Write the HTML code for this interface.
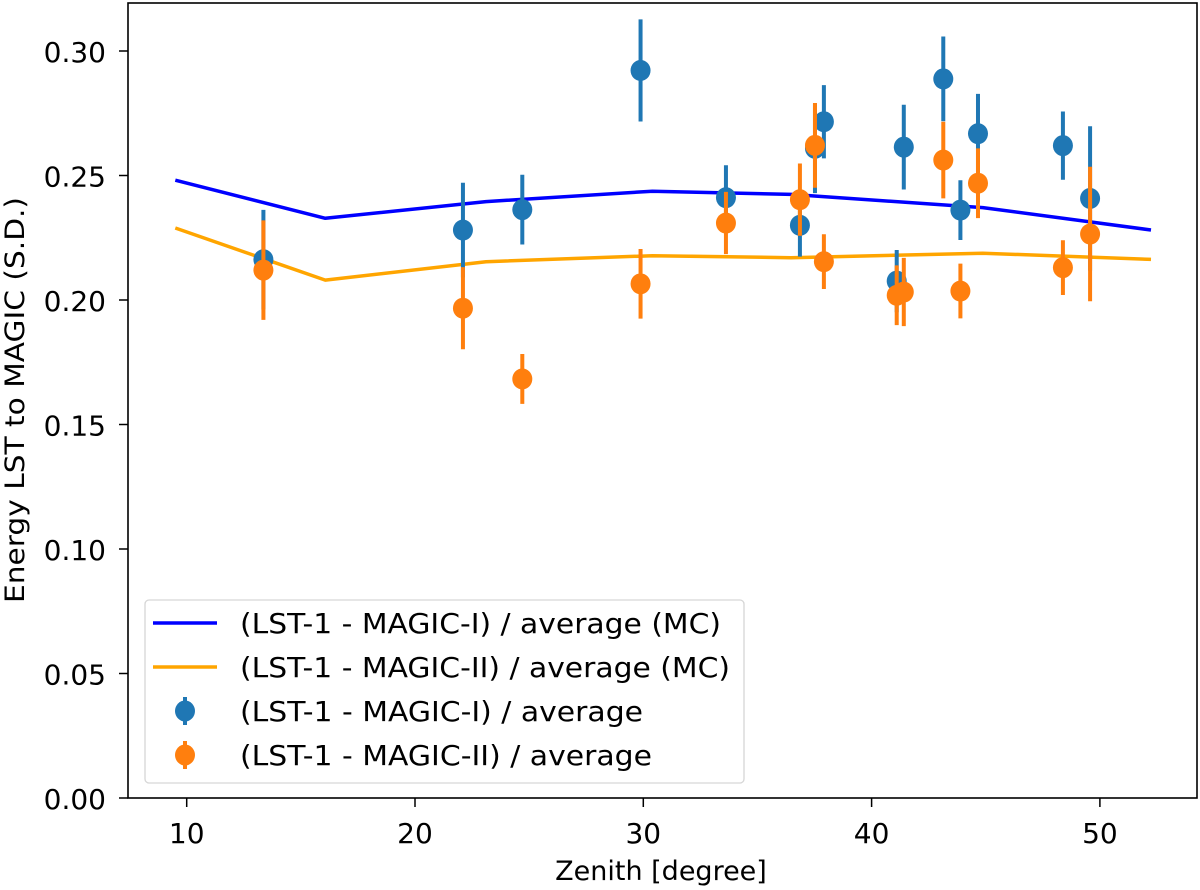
<!DOCTYPE html>
<html><head><meta charset="utf-8"><style>
html,body{margin:0;padding:0;background:#fff;}
svg{display:block;font-family:"DejaVu Sans","Liberation Sans",sans-serif;}
</style></head><body>
<svg id="chart" width="1200" height="890" viewBox="0 0 1200 890" xmlns="http://www.w3.org/2000/svg"></svg>
<script>
const xTicks = [10, 20, 30, 40, 50];
const yTicks = [0.00, 0.05, 0.10, 0.15, 0.20, 0.25, 0.30];
const yTickLabels = ["0.00","0.05","0.10","0.15","0.20","0.25","0.30"];
const mcZenith = [9.50, 16.07, 23.11, 30.40, 36.47, 44.87, 52.24];
const mcMagic1 = [0.2481, 0.2328, 0.2395, 0.2437, 0.2424, 0.2371, 0.2281];
const mcMagic2 = [0.2289, 0.2080, 0.2154, 0.2178, 0.2170, 0.2188, 0.2163];
const dataZenith = [13.36, 22.10, 24.70, 29.88, 33.62, 36.86, 37.52, 37.91, 41.10, 41.41, 43.14, 43.89, 44.66, 48.38, 49.57];
const magic1Vals = [0.2162, 0.2281, 0.2363, 0.2922, 0.2411, 0.2300, 0.2609, 0.2716, 0.2076, 0.2614, 0.2888, 0.2361, 0.2668, 0.2620, 0.2408];
const magic1Errs = [0.020, 0.019, 0.014, 0.0205, 0.013, 0.0126, 0.018, 0.0147, 0.0125, 0.017, 0.017, 0.012, 0.016, 0.0137, 0.029];
const magic2Vals = [0.2120, 0.1967, 0.1683, 0.2065, 0.2309, 0.2403, 0.2621, 0.2154, 0.2019, 0.2032, 0.2562, 0.2036, 0.2469, 0.2130, 0.2265];
const magic2Errs = [0.020, 0.0165, 0.010, 0.014, 0.0125, 0.0145, 0.017, 0.011, 0.012, 0.0137, 0.0154, 0.011, 0.014, 0.011, 0.027];

const NS = "http://www.w3.org/2000/svg";
const svg = document.getElementById('chart');
const L = 128, R = 1197, T = 3, B = 798;
function xs(z){ return 186.7 + (z - 10) * 22.83; }
function ys(v){ return 798 - v * 2490; }
function mk(tag, attrs, parent){
  const e = document.createElementNS(NS, tag);
  for (const k in attrs) e.setAttribute(k, attrs[k]);
  (parent || svg).appendChild(e);
  return e;
}
const defs = mk('defs', {});
const cp = mk('clipPath', {id: 'plotclip'}, defs);
mk('rect', {x: L, y: T, width: R - L, height: B - T}, cp);

const plot = mk('g', {'clip-path': 'url(#plotclip)'});



function drawLine(vals, color, name){
  const pts = mcZenith.map((z, i) => xs(z).toFixed(1) + ',' + ys(vals[i]).toFixed(1)).join(' ');
  const p = mk('polyline', {points: pts, fill: 'none', stroke: color, 'stroke-width': 3.5, 'stroke-linejoin': 'round'}, plot);
  
  
}
drawLine(mcMagic1, '#0000ff', 'mc-magic-1-line');
drawLine(mcMagic2, '#ffa500', 'mc-magic-2-line');

function drawPoints(vals, errs, color, name){
  const g = mk('g', {}, plot);
  
  
  dataZenith.forEach((z, i) => {
    const x = xs(z);
    const eb = mk('line', {x1: x, x2: x, y1: ys(vals[i] - errs[i]), y2: ys(vals[i] + errs[i]), stroke: color, 'stroke-width': 4}, g);
    
    
    const c = mk('ellipse', {cx: x, cy: ys(vals[i]), rx: 10, ry: 10.5, fill: color}, g);
    
    
  });
}
drawPoints(magic1Vals, magic1Errs, '#1f77b4', 'magic-1-points');
drawPoints(magic2Vals, magic2Errs, '#ff7f0e', 'magic-2-points');

const frame = mk('rect', {x: L, y: T, width: R - L, height: B - T, fill: 'none', stroke: '#000', 'stroke-width': 1.6});



xTicks.forEach(t => {
  const x = xs(t);
  const tk = mk('line', {x1: x, x2: x, y1: B, y2: B + 9, stroke: '#000', 'stroke-width': 1.5});
  
  
  const tx = mk('text', {x: x, y: B + 45, 'font-size': 28, 'text-anchor': 'middle', fill: '#000'});
  tx.textContent = String(t);
  
  
});
yTicks.forEach((t, i) => {
  const y = ys(t);
  const tk = mk('line', {x1: L - 9, x2: L, y1: y, y2: y, stroke: '#000', 'stroke-width': 1.5});
  
  
  const tx = mk('text', {x: 106, y: y + 11, 'font-size': 28, 'text-anchor': 'end', fill: '#000'});
  tx.textContent = yTickLabels[i];
  
  
});
const xt = mk('text', {x: 661, y: 880, 'font-size': 27, 'text-anchor': 'middle', fill: '#000'});
xt.textContent = 'Zenith [degree]';


const yt = mk('text', {x: 0, y: 0, 'font-size': 27, 'text-anchor': 'middle', fill: '#000', textLength: 406, lengthAdjust: 'spacingAndGlyphs', transform: 'translate(24,400) rotate(-90)'});
yt.textContent = 'Energy LST to MAGIC (S.D.)';



const lg = mk('g', {});


mk('rect', {x: 145, y: 600, width: 599, height: 183, rx: 4, fill: '#fff', 'fill-opacity': 0.85, stroke: '#d6d6d6', 'stroke-width': 1.3}, lg);
const entries = [
  {t: '(LST-1 - MAGIC-I) / average (MC)', c: '#0000ff', line: true, w: 481},
  {t: '(LST-1 - MAGIC-II) / average (MC)', c: '#ffa500', line: true, w: 490},
  {t: '(LST-1 - MAGIC-I) / average', c: '#1f77b4', line: false, w: 403},
  {t: '(LST-1 - MAGIC-II) / average', c: '#ff7f0e', line: false, w: 412}
];
const rowY = [623, 667, 711, 755];
entries.forEach((e, i) => {
  const g = mk('g', {}, lg);
  
  
  const y = rowY[i];
  if (e.line) {
    mk('line', {x1: 153, x2: 217, y1: y, y2: y, stroke: e.c, 'stroke-width': 3.5}, g);
  } else {
    mk('line', {x1: 185, x2: 185, y1: y - 14, y2: y + 14, stroke: e.c, 'stroke-width': 4}, g);
    mk('ellipse', {cx: 185, cy: y, rx: 10, ry: 10.5, fill: e.c}, g);
  }
  const tx = mk('text', {x: 240, y: y + 10, 'font-size': 28, fill: '#000', textLength: e.w, lengthAdjust: 'spacingAndGlyphs'}, g);
  tx.textContent = e.t;
});
</script>
</body></html>
